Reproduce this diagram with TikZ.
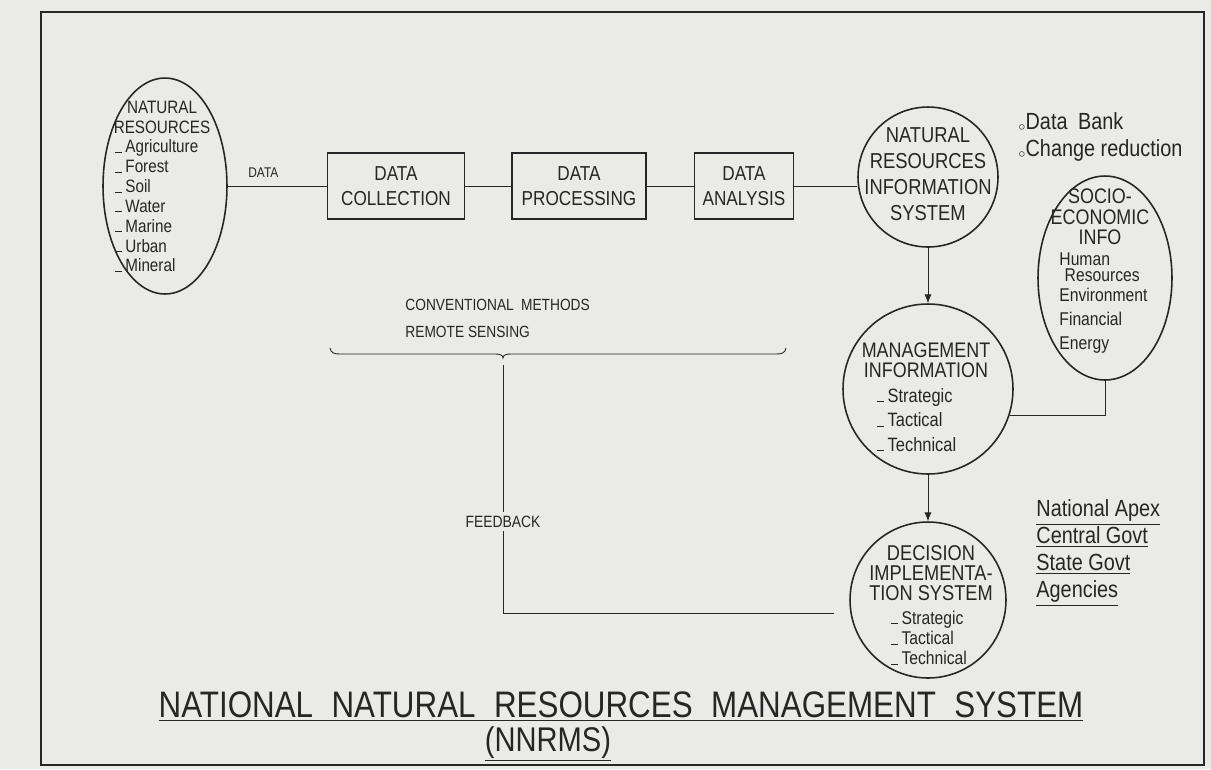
\documentclass[tikz,border=0pt]{standalone}
\usepackage{fontspec}
\setmainfont{Liberation Sans}[FakeStretch=0.85]
\usepackage{tikz}
\usetikzlibrary{arrows.meta, shapes.geometric, positioning}
\definecolor{Paper}{RGB}{234,234,231}
\definecolor{Ink}{RGB}{38,38,38}
\newcommand{\fsz}[2]{\fontsize{#1}{#2}\selectfont}
\newcommand{\itemdash}{\rule{4pt}{0.6pt}\,}
\newcommand{\wgap}{\hspace{0.45em}}

\begin{document}
\begin{tikzpicture}[x=0.02cm, y=-0.02cm, line width=0.5pt, color=Ink,
  box/.style={draw=Ink, line width=0.9pt, minimum height=1.33cm, inner sep=0pt,
              align=center, font=\fsz{11.5}{14}},
  bubble/.style={circle, draw=Ink, line width=0.9pt, inner sep=0pt},
  blob/.style={ellipse, draw=Ink, line width=0.9pt, inner sep=0pt},
  caps/.style={align=center, inner sep=0pt},
  list/.style={align=left, inner sep=0pt, anchor=west},
  flowto/.style={-{Latex[length=5pt, width=4pt]}}]
  \fill[Paper] (0,0) rectangle (1211,769);
  \useasboundingbox (0,0) rectangle (1211,769);
  \draw[line width=1.6pt] (41,12) rectangle (1204,765);

  % Resources ellipse
  \node[blob, minimum width=2.48cm, minimum height=4.32cm] (nr) at (165,186) {};
  \node[caps, font=\fsz{10.2}{11.3}] (nr-head) at (162,117) {NATURAL\\RESOURCES};
  \node[list, font=\fsz{10.2}{11.3}] (nr-list) at (115,206)
    {\itemdash Agriculture\\\itemdash Forest\\\itemdash Soil\\\itemdash Water\\
     \itemdash Marine\\\itemdash Urban\\\itemdash Mineral};

  % Data chain
  \node[box, minimum width=2.74cm] (collect) at (396,186) {DATA\\COLLECTION};
  \node[box, minimum width=2.68cm] (process) at (579,186) {DATA\\PROCESSING};
  \node[box, minimum width=1.98cm] (analyse) at (744,186) {DATA\\ANALYSIS};

  % Round systems
  \node[bubble, minimum size=2.8cm] (nris) at (928,177) {};
  \node[caps, font=\fsz{12.3}{14.7}] (nris-txt) at (928,174)
    {NATURAL\\RESOURCES\\INFORMATION\\SYSTEM};
  \node[bubble, minimum size=3.4cm] (mis) at (928,389) {};
  \node[caps, font=\fsz{12}{11.3}] (mis-head) at (926,360) {MANAGEMENT\\INFORMATION};
  \node[list, font=\fsz{11}{13.9}] (mis-list) at (877,420)
    {\itemdash Strategic\\\itemdash Tactical\\\itemdash Technical};
  \node[bubble, minimum size=3.12cm] (dis) at (928,600) {};
  \node[caps, font=\fsz{12.2}{11.3}] (dis-head) at (931,573)
    {DECISION\\IMPLEMENTA-\\TION SYSTEM};
  \node[list, font=\fsz{10.5}{11.6}] (dis-list) at (891,638)
    {\itemdash Strategic\\\itemdash Tactical\\\itemdash Technical};

  % Socio-economic ellipse
  \node[blob, minimum width=2.68cm, minimum height=4.08cm] (socio) at (1105,278) {};
  \node[caps, font=\fsz{12}{11.6}] (socio-head) at (1100,217) {SOCIO-\\ECONOMIC\\INFO};
  \node[list, font=\fsz{10.5}{13.6}] (socio-list) at (1059,303)
    {Human\\[-4.6pt]\hspace{3pt}Resources\\[-2.3pt]Environment\\Financial\\Energy};

  % Side notes
  \node[list, font=\fsz{13.3}{15.3}] (bank) at (1018,137)
    {\raisebox{-0.5pt}{\scriptsize$\circ$}Data\wgap Bank\\
     \raisebox{-0.5pt}{\scriptsize$\circ$}Change reduction};
  \node[list, font=\fsz{13.3}{15.3}] (govt) at (1036,553)
    {\underline{National Apex}\\\underline{Central Govt}\\
     \underline{State Govt}\\\underline{Agencies}};
  \node[list, font=\fsz{9.2}{15.3}] (methods) at (405,318)
    {CONVENTIONAL\wgap METHODS\\REMOTE SENSING};

  % Brace
  \coordinate (tip) at (503,358);
  \draw (330,348) .. controls (331,353) and (334,354) .. (340,354) -- (495,354)
        .. controls (500,354) and (503,355) .. (tip)
        .. controls (503,355) and (506,354) .. (511,354) -- (776,354)
        .. controls (782,354) and (785,353) .. (786,348);

  % Connectors
  \draw (nr) -- node[pos=0.36, above=1pt, font=\fsz{8}{9}] {DATA} (collect);
  \draw (collect) -- (process);
  \draw (process) -- (analyse);
  \draw (analyse) -- (analyse -| nris.west);
  \draw[flowto] (nris) -- (mis);
  \draw[flowto] (mis) -- (dis);
  \draw (socio.south) |- (mis.-18.5);
  \draw[shorten <=0.32cm, shorten >=0.14cm] (dis.190) -| node[pos=0.68, fill=Paper,
        inner sep=2pt, font=\fsz{9.3}{10}] {FEEDBACK} (tip);

  % Title
  \node[font=\fsz{21}{24}] (title) at (621,707)
    {\underline{NATIONAL\hspace{0.5em}NATURAL\hspace{0.5em}RESOURCES\hspace{0.5em}%
      MANAGEMENT\hspace{0.5em}SYSTEM}};
  \node[font=\fsz{19.5}{24}] (short) at (548,744) {\underline{(NNRMS)}};
\end{tikzpicture}
\end{document}
